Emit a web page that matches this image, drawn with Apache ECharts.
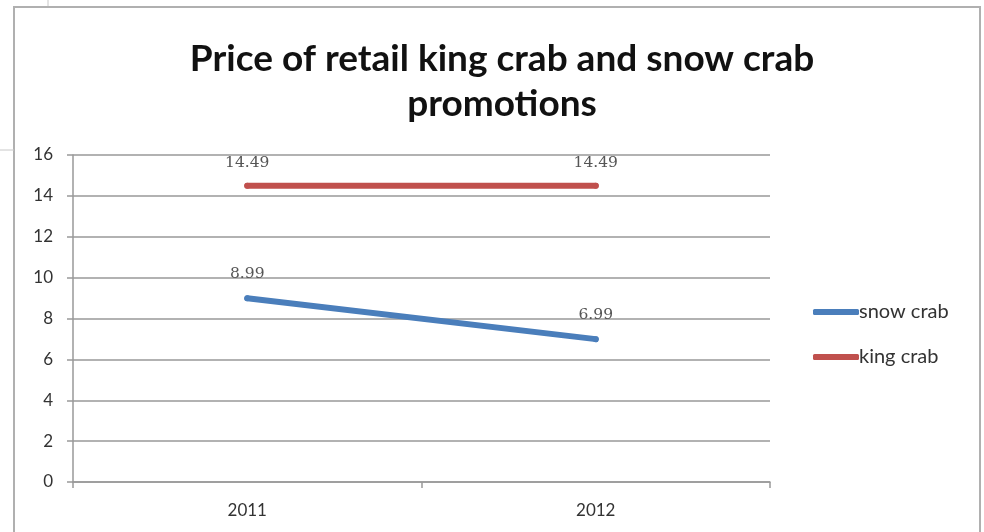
<!DOCTYPE html>
<html><head><meta charset="utf-8">
<script src="https://cdn.jsdelivr.net/npm/echarts@6/dist/echarts.min.js"></script>
<style>html,body{margin:0;padding:0;background:#fff}#c{width:984px;height:532px}</style>
</head><body><div id="c"></div>
<script>
const categories = ['2011', '2012'];
const snowCrab = [8.99, 6.99];
const kingCrab = [14.49, 14.49];
const seriesNames = ['snow crab', 'king crab'];
const yTicks = { min: 0, max: 16, interval: 2 };

const chart = echarts.init(document.getElementById('c'));
const font = 'Lato, "Open Sans", sans-serif';
const labelStyle = (d) => ({
  show: true, position: 'top', distance: d,
  fontFamily: '"DejaVu Serif", serif', fontSize: 15.5, color: '#555',
  formatter: p => p.value.toFixed(2)
});
chart.setOption({
  animation: false,
  backgroundColor: '#fff',
  title: {
    text: 'Price of retail king crab and snow crab\npromotions',
    left: 497, top: 32, textAlign: 'center',
    textStyle: { fontFamily: font, fontWeight: 'bold', fontSize: 37, color: '#111', lineHeight: 45 }
  },
  graphic: [
    { type: 'rect', shape: { x: 14, y: 7, width: 966, height: 530 }, style: { fill: 'none', stroke: '#b0b0b0', lineWidth: 2 }, z: -1 },
    { type: 'line', shape: { x1: 0, y1: 150, x2: 14, y2: 150 }, style: { stroke: '#c8c8c8', lineWidth: 1 } },
    { type: 'line', shape: { x1: 48, y1: 0, x2: 48, y2: 6 }, style: { stroke: '#c8c8c8', lineWidth: 1 } }
  ],
  legend: {
    orient: 'vertical', left: 808, top: 297, itemGap: 25,
    itemWidth: 46, itemHeight: 6, icon: 'roundRect',
    textStyle: { fontFamily: font, fontSize: 20, color: '#333', padding: [0, 0, 0, -5] },
    data: seriesNames
  },
  grid: { left: 73, right: 214, top: 155, bottom: 50 },
  xAxis: {
    type: 'category', data: categories, boundaryGap: true,
    axisLine: { lineStyle: { color: '#999', width: 1.5 } },
    axisTick: { show: true, length: 6, lineStyle: { color: '#999', width: 1.5 } },
    axisLabel: { fontFamily: font, fontSize: 17, color: '#333', margin: 20 }
  },
  yAxis: {
    type: 'value', min: yTicks.min, max: yTicks.max, interval: yTicks.interval,
    axisLine: { show: true, lineStyle: { color: '#999', width: 1.5 } },
    axisTick: { show: true, length: 6, lineStyle: { color: '#999', width: 1.5 } },
    axisLabel: { fontFamily: font, fontSize: 17, color: '#333', margin: 20 },
    splitLine: { lineStyle: { color: '#999', width: 1.5 } }
  },
  series: [
    {
      name: seriesNames[0], type: 'line', data: snowCrab,
      symbol: 'circle', symbolSize: 6, showSymbol: true, color: '#4a7ebb',
      itemStyle: { color: '#4a7ebb', borderWidth: 0 },
      lineStyle: { width: 6, cap: 'round', color: '#4a7ebb' },
      label: labelStyle(13)
    },
    {
      name: seriesNames[1], type: 'line', data: kingCrab,
      symbol: 'circle', symbolSize: 6, showSymbol: true, color: '#c0504d',
      itemStyle: { color: '#c0504d', borderWidth: 0 },
      lineStyle: { width: 6, cap: 'round', color: '#c0504d' },
      label: labelStyle(12)
    }
  ]
});
</script></body></html>
